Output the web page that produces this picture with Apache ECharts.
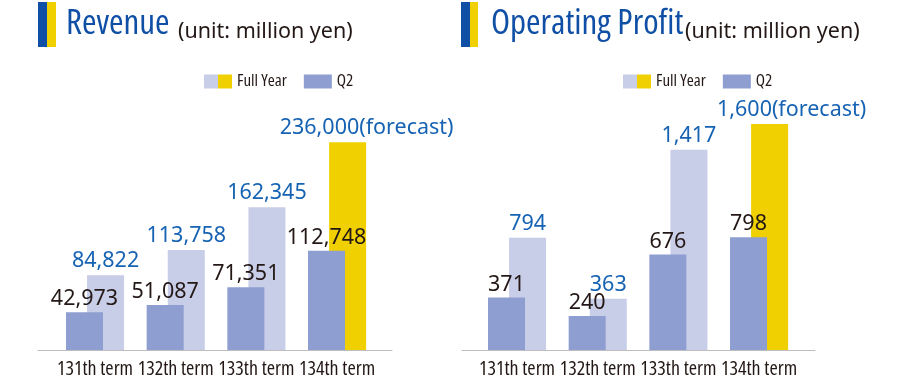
<!DOCTYPE html>
<html>
<head>
<meta charset="utf-8">
<script src="https://cdn.jsdelivr.net/npm/echarts@6/dist/echarts.min.js"></script>
<style>
html,body{margin:0;padding:0;background:#fff;}
#main{width:900px;height:383px;}
</style>
</head>
<body>
<div id="main"></div>
<script>
// ---- data ----
var categories = ['131th term', '132th term', '133th term', '134th term'];
var revenueQ2 = [42973, 51087, 71351, 112748];
var revenueFull = [84822, 113758, 162345, 236000];
var profitQ2 = [371, 240, 676, 798];
var profitFull = [794, 363, 1417, 1600];
var isForecast = [false, false, false, true];
var legendNames = ['Full Year', 'Q2'];

// ---- styles ----
var C_Q2 = '#8e9ed1';
var C_FULL = '#c8cde8';
var C_FORE = '#f0d000';
var C_BLUE = '#0f4fa5';
var C_LBLUE = '#1763b3';
var C_DARK = '#231815';
var COND = '"Open Sans", sans-serif';
var NUMF = '"Noto Sans", sans-serif';

var legendGrad = new echarts.graphic.LinearGradient(0, 0, 1, 0, [
  {offset: 0, color: C_FULL}, {offset: 0.5, color: C_FULL},
  {offset: 0.5, color: C_FORE}, {offset: 1, color: C_FORE}
]);

function fmt(v) { return v.toLocaleString('en-US'); }

function fullData(vals, offX) {
  return vals.map(function (v, i) {
    var d = {value: v, itemStyle: {color: isForecast[i] ? C_FORE : C_FULL}};
    if (isForecast[i]) d.label = {offset: [offX, 0]};
    return d;
  });
}

function makeSeries(q2, full, idx, offX) {
  return [
    {
      name: 'Q2', type: 'bar', xAxisIndex: idx, yAxisIndex: idx,
      data: q2, barWidth: 37, barGap: '-43%', z: 3,
      itemStyle: {color: C_Q2},
      label: {show: true, position: 'top', distance: 2, color: C_DARK,
        fontFamily: NUMF, fontSize: 21.5,
        formatter: function (p) { return fmt(p.value); }},
      emphasis: {disabled: true}, animation: false
    },
    {
      name: 'Full Year', type: 'bar', xAxisIndex: idx, yAxisIndex: idx,
      data: fullData(full, offX), barWidth: 37, barGap: '-43%', z: 2,
      itemStyle: {color: legendGrad},
      label: {show: true, position: 'top', distance: 3, color: C_LBLUE,
        fontFamily: NUMF, fontSize: 21.5,
        formatter: function (p) { return fmt(p.value) + (isForecast[p.dataIndex] ? '(forecast)' : ''); }},
      emphasis: {disabled: true}, animation: false
    }
  ];
}

var xLabel = {color: C_DARK, fontFamily: COND, fontWeight: 'condensed', fontSize: 20, margin: 9, interval: 0};

var option = {
  animation: false,
  title: [
    {text: 'Revenue', left: 66, top: 7, padding: 0, textStyle: {color: C_BLUE, fontFamily: COND, fontWeight: 'condensed', fontSize: 35}},
    {text: '(unit: million yen)', left: 178, top: 21, padding: 0, textStyle: {color: C_DARK, fontFamily: NUMF, fontSize: 21.5, fontWeight: 'normal'}},
    {text: 'Operating Profit', left: 491, top: 7, padding: 0, textStyle: {color: C_BLUE, fontFamily: COND, fontWeight: 'condensed', fontSize: 35}},
    {text: '(unit: million yen)', left: 685, top: 21, padding: 0, textStyle: {color: C_DARK, fontFamily: NUMF, fontSize: 21.5, fontWeight: 'normal'}}
  ],
  graphic: [
    {type: 'rect', shape: {x: 38, y: 2, width: 9, height: 45}, style: {fill: C_BLUE}},
    {type: 'rect', shape: {x: 47, y: 2, width: 9, height: 45}, style: {fill: C_FORE}},
    {type: 'rect', shape: {x: 461, y: 2, width: 9, height: 45}, style: {fill: C_BLUE}},
    {type: 'rect', shape: {x: 470, y: 2, width: 8, height: 45}, style: {fill: C_FORE}}
  ],
  legend: [
    {data: legendNames, left: 204, top: 73, padding: 0, itemWidth: 28, itemHeight: 14, itemGap: 17,
      icon: 'rect', selectedMode: false,
      textStyle: {color: C_DARK, fontFamily: COND, fontWeight: 'condensed', fontSize: 17}},
    {data: legendNames, left: 623, top: 73, padding: 0, itemWidth: 28, itemHeight: 14, itemGap: 17,
      icon: 'rect', selectedMode: false,
      textStyle: {color: C_DARK, fontFamily: COND, fontWeight: 'condensed', fontSize: 17}}
  ],
  grid: [
    {left: 54.7, width: 322.7, top: 130, bottom: 33},
    {left: 476.7, width: 322.7, top: 124, bottom: 33},
    {left: 38, width: 354, top: 130, bottom: 33},
    {left: 462, width: 353, top: 124, bottom: 33}
  ],
  xAxis: [
    {type: 'category', gridIndex: 0, data: categories, axisLine: {show: false}, axisTick: {show: false}, axisLabel: xLabel},
    {type: 'category', gridIndex: 1, data: categories, axisLine: {show: false}, axisTick: {show: false}, axisLabel: xLabel},
    {type: 'value', gridIndex: 2, axisLine: {show: true, lineStyle: {color: '#bdbdbd', width: 1}}, axisTick: {show: false}, axisLabel: {show: false}, splitLine: {show: false}},
    {type: 'value', gridIndex: 3, axisLine: {show: true, lineStyle: {color: '#bdbdbd', width: 1}}, axisTick: {show: false}, axisLabel: {show: false}, splitLine: {show: false}}
  ],
  yAxis: [
    {type: 'value', gridIndex: 0, min: 0, max: 250000, show: false},
    {type: 'value', gridIndex: 1, min: 0, max: 1600, show: false},
    {type: 'value', gridIndex: 2, show: false},
    {type: 'value', gridIndex: 3, show: false}
  ],
  series: [].concat(makeSeries(revenueQ2, revenueFull, 0, 19), makeSeries(profitQ2, profitFull, 1, 22))
};

var chart = echarts.init(document.getElementById('main'), null, {renderer: 'canvas'});
chart.setOption(option);
</script>
</body>
</html>
